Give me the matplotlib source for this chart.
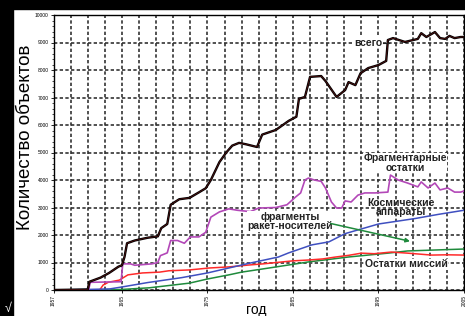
import matplotlib.pyplot as plt
from matplotlib.patches import Rectangle

plt.rcParams['font.family'] = ['Liberation Sans', 'DejaVu Sans']

# всего (total)
total_years = [1957, 1961.0, 1961.2, 1962.5, 1963.5, 1964.6, 1965.0, 1965.3, 1965.6, 1966.5,
               1968.0, 1969.2, 1969.6, 1970.3, 1970.7, 1971.7, 1972.9, 1974.0, 1974.8, 1975.4,
               1976.4, 1977.2, 1977.9, 1978.7, 1979.5, 1980.8, 1981.4, 1983.0, 1984.5, 1985.4,
               1985.7, 1986.4, 1987.0, 1988.3, 1988.8, 1990.1, 1991.1, 1991.5, 1992.3, 1992.9,
               1993.8, 1995.0, 1995.9, 1996.1, 1996.7, 1998.1, 1999.6, 2000.0, 2000.6, 2001.6,
               2002.2, 2002.8, 2003.3, 2003.9, 2004.6, 2005]
total_vals = [0, 20, 300, 450, 620, 850, 900, 1200, 1700, 1800,
              1900, 1950, 2250, 2400, 3100, 3300, 3350, 3550, 3700, 4000,
              4650, 5000, 5250, 5350, 5300, 5200, 5650, 5820, 6150, 6300,
              6950, 7020, 7750, 7780, 7600, 7020, 7270, 7560, 7450, 7880,
              8070, 8180, 8330, 9090, 9160, 9020, 9130, 9340, 9200, 9380,
              9160, 9130, 9240, 9160, 9200, 9200]

# Фрагментарные остатки
frag_years = [1957, 1961.1, 1961.3, 1964.9, 1965.1, 1966.0, 1966.5, 1968.5, 1969.2, 1969.5,
              1970.3, 1970.7, 1971.5, 1972.3, 1973.0, 1974.0, 1974.8, 1975.4, 1976.4, 1977.5,
              1978.5, 1980.0, 1981.0, 1983.0, 1984.3, 1985.3, 1985.9, 1986.4, 1986.8, 1987.5,
              1988.3, 1988.8, 1989.5, 1990.1, 1990.7, 1991.1, 1991.8, 1992.6, 1993.4, 1994.6,
              1996.1, 1996.4, 1997.3, 1998.4, 1999.6, 2000.0, 2000.8, 2001.6, 2002.2, 2003.1,
              2003.9, 2004.6, 2005]
frag_vals = [0, 0, 280, 300, 950, 950, 900, 950, 1000, 1250,
             1350, 1800, 1800, 1700, 1930, 1930, 2100, 2650, 2840, 2950,
             2900, 2850, 2980, 3000, 3100, 3380, 3530, 4000, 4070, 4000,
             3950, 3710, 3200, 2980, 2980, 3240, 3200, 3450, 3530, 3530,
             3560, 4180, 4000, 3890, 3750, 3930, 3710, 3890, 3640, 3710,
             3560, 3560, 3600]

# Космические аппараты
sc_years = [1957, 1958, 1961, 1963.6, 1965, 1968, 1972, 1975, 1980, 1983.3, 1984.5,
            1987.2, 1989.2, 1991.1, 1995, 1999.3, 2002, 2005]
sc_vals = [0, 5, 20, 40, 110, 270, 450, 620, 980, 1200, 1350,
           1640, 1750, 2050, 2400, 2600, 2750, 2900]

# Остатки миссий
mis_years = [1957, 1962.4, 1962.8, 1963.4, 1964.7, 1965.7, 1967.4, 1969.4, 1970.5, 1972.9,
             1975.2, 1977.5, 1979.9, 1981.5, 1983.7, 1985.0, 1986.8, 1988.5, 1990, 1991.5,
             1993, 1994.5, 1996.5, 1998.4, 2000.0, 2001.2, 2003.0, 2005]
mis_vals = [0, 0, 180, 280, 360, 550, 620, 650, 700, 730,
            800, 840, 910, 950, 1020, 1060, 1090, 1130, 1200, 1260,
            1340, 1320, 1380, 1340, 1300, 1270, 1280, 1270]

# фрагменты ракет-носителей
rb_years = [1957, 1963.5, 1965, 1968.2, 1972.9, 1975, 1977.5, 1979, 1982.2, 1986.8,
            1991.5, 1996.1, 1998.4, 2001.2, 2005]
rb_vals = [0, 0, 20, 80, 250, 400, 550, 650, 800, 1020,
           1200, 1340, 1420, 1450, 1490]

x_ticks = [1957, 1965, 1975, 1985, 1995, 2005]
y_ticks = list(range(0, 10001, 1000))

fig = plt.figure(figsize=(4.65, 3.16), dpi=100)
fig.patch.set_facecolor('white')
# black frame strips of the scanned picture
fig.patches.append(Rectangle((0, 0), 13 / 465, 1, transform=fig.transFigure, color='black', zorder=0))
fig.patches.append(Rectangle((0, 1 - 9 / 316), 1, 9 / 316, transform=fig.transFigure, color='black', zorder=0))
fig.text(5 / 465, 0.004, '√', color='white', fontsize=9, ha='left', va='bottom')

ax = fig.add_axes([53.5 / 465, 26 / 316, 410.5 / 465, 275 / 316])
ax.set_xlim(1957, 2005)
ax.set_ylim(0, 10000)

# пунктирная сетка
for yr in range(1957, 2006, 2):
    ax.axvline(yr, color='#333333', lw=1.2, ls=(0, (2, 1.4)), zorder=1)
for v in y_ticks:
    ax.axhline(v, color='#333333', lw=1.2, ls=(0, (2, 1.4)), zorder=1)

ax.plot(rb_years, rb_vals, color='#1f8a3c', lw=1.1, zorder=3)
ax.plot(mis_years, mis_vals, color='#ff2a2a', lw=1.1, zorder=3)
ax.plot(sc_years, sc_vals, color='#3f4fc0', lw=1.1, zorder=3)
ax.plot(frag_years, frag_vals, color='#b348b8', lw=1.2, zorder=3)
ax.plot(total_years, total_vals, color='black', lw=1.7, zorder=4)
ax.plot(total_years, total_vals, color='#6a1515', lw=0.4, zorder=5)

ax.set_xticks(x_ticks)
ax.set_xticklabels([str(t) for t in x_ticks], rotation=90, fontsize=3.5)
ax.set_yticks(y_ticks)
ax.set_yticklabels([str(t) for t in y_ticks], fontsize=3.5)
ax.set_yticks(range(0, 10001, 200), minor=True)
ax.tick_params(axis='both', length=2, width=0.6, pad=1.5)
ax.tick_params(axis='y', which='minor', length=1.2, width=0.5)
for s in ax.spines.values():
    s.set_linewidth(1.0)

fig.text(26 / 465, 1 - 137 / 316, 'Количество объектов', rotation=90,
         fontsize=13.5, ha='center', va='center')
fig.text(256 / 465, 1 - 303 / 316, 'год', fontsize=10, ha='center', va='top')

box = dict(facecolor='white', edgecolor='none', pad=0.2)
bold = dict(fontsize=7.5, fontweight='bold', color='#222222', zorder=6)
ax.text(1995.5, 9000, 'всего', ha='right', va='center', bbox=box, **bold)
ax.plot([1995.5, 1996.2], [9000, 9000], color='#222222', lw=0.8, zorder=6)
ax.text(1998.1, 4620, 'Фрагментарные\nостатки', ha='center', va='center', linespacing=0.95,
        bbox=box, **bold)
ax.text(1997.6, 3000, 'Космические\nаппараты', ha='center', va='center', linespacing=0.95, **bold)
ax.text(1984.7, 2490, 'фрагменты\nракет-носителей', ha='center', va='center', linespacing=0.95,
        bbox=box, **bold)
ax.text(1998.3, 930, 'Остатки миссий', ha='center', va='center', bbox=box, **bold)
ax.annotate('', xy=(1999.0, 1750), xytext=(1989.1, 2440),
            arrowprops=dict(arrowstyle='-|>', color='#1f8a3c', lw=1.1, mutation_scale=6), zorder=6)

fig.savefig('out.png', dpi=100)
